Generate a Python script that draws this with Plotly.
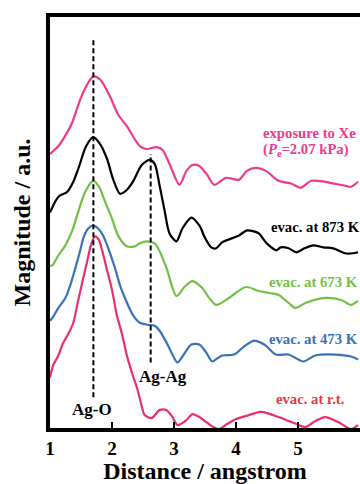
import plotly.graph_objects as go

# Distance (angstrom) and offset magnitude (a.u.)
x_xe = [1.0, 1.136, 1.28, 1.36, 1.488, 1.60, 1.696, 1.808, 1.968, 2.096, 2.24, 2.448, 2.56, 2.72, 2.816,
        2.928, 3.088, 3.20, 3.296, 3.408, 3.536, 3.648, 3.84, 4.048, 4.176, 4.32, 4.48, 4.688, 4.896,
        5.04, 5.216, 5.44, 5.76, 5.856, 5.968]
y_xe = [2.78, 2.86, 3.00, 3.10, 3.33, 3.48, 3.56, 3.53, 3.36, 3.18, 3.06, 2.86, 2.83, 2.85, 2.82,
        2.68, 2.47, 2.61, 2.67, 2.66, 2.57, 2.47, 2.54, 2.52, 2.61, 2.64, 2.61, 2.51, 2.48,
        2.44, 2.51, 2.50, 2.46, 2.45, 2.50]

x_873 = [1.0, 1.136, 1.28, 1.376, 1.456, 1.584, 1.696, 1.808, 1.92, 2.016, 2.128, 2.224, 2.336, 2.48,
         2.608, 2.688, 2.768, 2.848, 2.928, 3.04, 3.136, 3.28, 3.408, 3.504, 3.60, 3.68, 3.776, 3.888,
         4.048, 4.176, 4.288, 4.368, 4.496, 4.656, 4.72, 4.848, 4.976, 5.104, 5.248, 5.408, 5.568,
         5.76, 5.888, 5.968]
y_873 = [2.19, 2.35, 2.40, 2.50, 2.63, 2.86, 2.95, 2.88, 2.73, 2.53, 2.38, 2.41, 2.50, 2.67,
         2.72, 2.68, 2.46, 2.21, 1.98, 1.90, 2.03, 2.14, 2.06, 1.93, 1.84, 1.83, 1.89, 1.92,
         1.96, 2.01, 2.00, 1.98, 1.88, 1.81, 1.84, 1.83, 1.79, 1.83, 1.86, 1.84, 1.83,
         1.78, 1.78, 1.79]

x_673 = [1.0, 1.04, 1.136, 1.248, 1.36, 1.456, 1.568, 1.696, 1.792, 1.888, 2.0, 2.096, 2.24, 2.368,
         2.448, 2.56, 2.688, 2.768, 2.88, 3.04, 3.168, 3.296, 3.456, 3.568, 3.68, 3.888, 4.16, 4.368,
         4.528, 4.688, 4.848, 4.96, 5.12, 5.44, 5.696, 5.856, 5.968]
y_673 = [1.65, 1.66, 1.76, 1.86, 2.01, 2.20, 2.40, 2.51, 2.45, 2.30, 2.13, 1.96, 1.85, 1.85,
         1.88, 1.90, 1.88, 1.80, 1.63, 1.35, 1.44, 1.50, 1.43, 1.33, 1.26, 1.33, 1.44, 1.40,
         1.38, 1.36, 1.28, 1.23, 1.28, 1.33, 1.31, 1.26, 1.30]

x_473 = [1.0, 1.04, 1.136, 1.248, 1.328, 1.408, 1.488, 1.536, 1.616, 1.696, 1.776, 1.856, 1.952, 2.048,
         2.128, 2.208, 2.336, 2.448, 2.576, 2.688, 2.768, 2.88, 2.976, 3.056, 3.168, 3.28, 3.408, 3.52,
         3.616, 3.696, 3.776, 3.968, 4.128, 4.288, 4.40, 4.48, 4.64, 4.848, 4.976, 5.088, 5.28, 5.60,
         5.856, 5.968]
y_473 = [1.10, 1.13, 1.23, 1.33, 1.46, 1.63, 1.81, 1.93, 2.03, 2.06, 2.03, 1.96, 1.81, 1.63,
         1.46, 1.33, 1.16, 1.08, 1.06, 1.05, 1.00, 0.88, 0.76, 0.68, 0.77, 0.86, 0.86, 0.78,
         0.69, 0.72, 0.75, 0.76, 0.84, 0.90, 0.88, 0.85, 0.76, 0.76, 0.72, 0.69, 0.75, 0.76,
         0.74, 0.71]

x_rt = [1.0, 1.056, 1.136, 1.2, 1.296, 1.376, 1.456, 1.536, 1.60, 1.664, 1.728, 1.792, 1.84, 1.92,
        2.0, 2.08, 2.16, 2.24, 2.32, 2.40, 2.464, 2.528, 2.64, 2.768, 2.88, 2.976, 3.056, 3.2, 3.296,
        3.408, 3.52, 3.632, 3.728, 3.856, 4.0, 4.208, 4.368, 4.448, 4.688, 4.976, 5.12, 5.28, 5.44,
        5.648, 5.856, 5.968]
y_rt = [0.53, 0.66, 0.75, 0.86, 0.97, 1.08, 1.31, 1.53, 1.70, 1.87, 1.95, 1.91, 1.81, 1.61,
        1.41, 1.15, 0.97, 0.75, 0.58, 0.43, 0.28, 0.15, 0.12, 0.20, 0.20, 0.13, 0.05, 0.10, 0.16,
        0.13, 0.08, 0.03, 0.01, 0.06, 0.11, 0.15, 0.18, 0.18, 0.13, 0.06, 0.03, 0.09, 0.13,
        0.08, 0.01, 0.05]

series_names = ["exposure to Xe", "evac. at 873 K", "evac. at 673 K", "evac. at 473 K", "evac. at r.t."]
series_colors = ["#EC3A8E", "#000000", "#72BF44", "#3A72B8", "#EA2F6C"]
label_colors = ["#EC3A8E", "#000000", "#72BF44", "#3A72B8", "#F0343C"]
xs = [x_xe, x_873, x_673, x_473, x_rt]
ys = [y_xe, y_873, y_673, y_473, y_rt]

# label anchor positions (left x, y)
label_x = [4.40, 4.53, 4.50, 4.50, 4.62]
label_y = [2.99, 2.04, 1.49, 0.92, 0.31]

# reference peaks (dashed markers)
peak_names = ["Ag-O", "Ag-Ag"]
peak_x = [1.70, 2.624]
peak_top = [3.93, 2.78]
peak_bottom = [0.33, 0.68]
peak_label_x = [1.68, 2.83]
peak_label_y = [0.21, 0.54]

tick_vals = [1, 2, 3, 4, 5, 6]
tick_text = ["<b>%d</b>" % v for v in tick_vals]

SERIF = "Liberation Serif"

fig = go.Figure()
for xv, yv, nm, col in zip(xs, ys, series_names, series_colors):
    fig.add_trace(go.Scatter(x=xv, y=yv, mode="lines", name=nm,
                             line=dict(color=col, width=2.2, shape="spline", smoothing=0.8),
                             showlegend=False))

for px, yt, yb in zip(peak_x, peak_top, peak_bottom):
    fig.add_trace(go.Scatter(x=[px, px], y=[yb, yt], mode="lines",
                             line=dict(color="black", width=2, dash="5px,3px"),
                             showlegend=False, hoverinfo="skip"))

for nm, lx, ly in zip(peak_names, peak_label_x, peak_label_y):
    fig.add_annotation(x=lx, y=ly, text="<b>%s</b>" % nm, showarrow=False,
                       font=dict(family=SERIF, size=17, color="black"))

for nm, lx, ly, col in zip(series_names, label_x, label_y, label_colors):
    fig.add_annotation(x=lx, y=ly, text="<b>%s</b>" % nm, showarrow=False, xanchor="left",
                       font=dict(family=SERIF, size=14.7, color=col))
fig.add_annotation(x=label_x[0], y=label_y[0] - 0.17,
                   text="<b>(<i>P</i><sub>e</sub>=2.07 kPa)</b>", showarrow=False, xanchor="left",
                   font=dict(family=SERIF, size=14.7, color=label_colors[0]))

fig.update_layout(
    width=360, height=484,
    margin=dict(l=50, r=0, t=17, b=53),
    plot_bgcolor="white", paper_bgcolor="white",
    font=dict(family=SERIF, color="black"),
)
fig.update_xaxes(range=[1, 6], tickvals=tick_vals, ticktext=tick_text,
                 ticks="inside", ticklen=6, tickwidth=2, tickcolor="black",
                 showline=True, linewidth=4, linecolor="black", mirror=True,
                 showgrid=False, zeroline=False,
                 tickfont=dict(family=SERIF, size=19, color="black", weight="bold"),
                 title=dict(text="<b>Distance / angstrom</b>", standoff=8,
                            font=dict(family=SERIF, size=24, color="black")))
fig.update_yaxes(range=[0.02, 4.16], showticklabels=False, ticks="",
                 showline=True, linewidth=4, linecolor="black",
                 showgrid=False, zeroline=False,
                 title=dict(text="<b>Magnitude / a.u.</b>", standoff=10,
                            font=dict(family=SERIF, size=24, color="black")))

fig.write_html("out.html", config={"displayModeBar": False},
               post_script="document.body.style.margin='0';")
